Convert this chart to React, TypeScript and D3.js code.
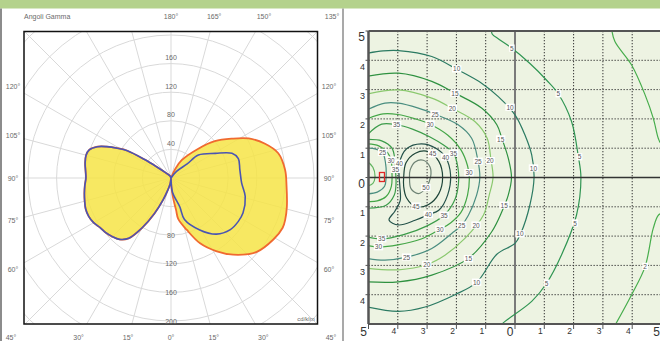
import React from "react";
import * as d3 from "d3";

// ---------- Polar photometric diagram data (gamma in degrees from nadir, value in cd/klm) ----------
const leftLobe: [number, number][] = [
  [0, 0], [8, 8], [15, 18], [20, 33], [25, 55], [30, 80], [35, 103], [40, 112], [45, 116], [50, 119],
  [55, 121], [60, 125], [65, 127], [70, 127], [75, 125], [80, 123], [85, 121], [90, 119], [95, 120],
  [100, 122], [105, 123], [109, 121], [113, 112], [116, 100], [119, 86], [122, 72], [125, 45], [128, 25],
  [135, 10], [155, 3], [180, 0],
];
const redRight: [number, number][] = [
  [180, 0], [155, 14], [149, 29], [137, 56], [130, 80], [123, 101], [117, 122], [110, 140], [103, 154],
  [94, 160], [86, 162], [76, 167], [70, 170], [66, 171], [59, 167], [49, 158], [39, 138], [32, 121],
  [24, 100], [17, 76], [10, 58], [9, 45], [6, 28], [3, 14], [0, 0],
];
const blueRight: [number, number][] = [
  [180, 0], [140, 12], [131, 30], [130, 50], [119, 71], [112, 92], [106, 98], [97, 97], [86, 99],
  [76, 107], [64, 112], [57, 112], [49, 110], [39, 101], [29, 83], [18, 61], [17, 42], [6, 20], [0, 0],
];
const gridCircles = [40, 80, 120, 160, 200, 240, 280];
const radiusLabelsUp = [40, 80, 120, 160];
const radiusLabelsDown = [80, 120, 160, 200];
const sideAngles = [60, 75, 90, 105, 120];
const bottomAngles = [-45, -30, -15, 0, 15, 30, 45];
const topAngles = [180, 165, 150, 135];

// ---------- Isolux diagram data (metres, lux) ----------
const iso2a: [number, number][] = [[3.3, 5.05], [3.41, 4.64], [3.98, 3.84], [4.44, 2.82], [4.72, 2.02], [4.89, 1.34], [4.97, 1.18], [5.1, 1.15]];
const iso2b: [number, number][] = [[5.1, -1.2], [4.9, -1.28], [4.72, -1.73], [4.44, -3.04], [3.98, -4.0], [3.41, -5.05]];
const iso5: [number, number][] = [[-0.8, 5.05], [-0.78, 4.9], [-0.55, 4.72], [-0.17, 4.46], [0.51, 3.89], [1.08, 3.32], [1.48, 2.85], [1.93, 1.91], [2.16, 0.72], [2.25, 0], [2.1, -1.28], [1.59, -2.64], [1.08, -3.61], [0.57, -4.23], [-0.34, -4.91], [-0.5, -5.05]];
const iso10: [number, number][] = [[-5.05, 4.24], [-4.5, 4.32], [-3.98, 4.33], [-2.84, 4.13], [-1.94, 3.67], [-1.14, 3.22], [-0.57, 2.76], [0, 2.14], [0.34, 1.45], [0.57, 0.77], [0.65, 0], [0.51, -0.93], [0.2, -1.9], [0, -2.25], [-0.62, -2.62], [-1.31, -3.58], [-2.05, -4.0], [-3.07, -4.42], [-3.98, -4.57], [-5.05, -4.42]];
const iso15: [number, number][] = [[-5.05, 3.45], [-3.98, 3.56], [-2.84, 3.28], [-2.05, 2.88], [-1.14, 2.37], [-0.62, 1.8], [-0.45, 1.34], [-0.23, 0.66], [-0.12, 0], [-0.23, -0.6], [-0.45, -1.17], [-0.8, -1.86], [-1.59, -2.76], [-2.84, -3.33], [-3.98, -3.56], [-5.05, -3.56]];
const iso20: [number, number][] = [[-5.05, 2.85], [-3.98, 2.99], [-2.84, 2.71], [-2.14, 2.36], [-1.37, 1.91], [-0.95, 1.34], [-0.82, 0.6], [-0.75, 0], [-0.88, -0.6], [-1.08, -1.29], [-1.71, -2.08], [-2.39, -2.65], [-3.01, -2.97], [-3.98, -3.15], [-5.05, -3.1]];
const iso25: [number, number][] = [[-5.05, 2.31], [-4.44, 2.54], [-3.98, 2.54], [-3.3, 2.37], [-2.73, 2.16], [-1.94, 1.8], [-1.48, 1.34], [-1.27, 0.6], [-1.2, 0], [-1.31, -0.6], [-1.59, -1.29], [-1.82, -1.63], [-2.16, -1.91], [-2.84, -2.42], [-3.7, -2.72], [-4.44, -2.82], [-5.05, -2.76]];
const iso30: [number, number][] = [[-5.05, 2.0], [-4.5, 2.17], [-4.0, 2.15], [-3.4, 2.0], [-2.9, 1.82], [-2.3, 1.45], [-1.85, 0.95], [-1.62, 0.4], [-1.56, 0], [-1.62, -0.6], [-1.85, -1.2], [-2.2, -1.55], [-2.56, -1.77], [-3.2, -2.1], [-4.0, -2.3], [-4.66, -2.37], [-5.05, -2.32]];
const iso35: [number, number][] = [[-5.05, 1.45], [-4.55, 1.82], [-4.04, 1.8], [-3.5, 1.65], [-2.9, 1.38], [-2.4, 1.08], [-2.1, 0.83], [-1.95, 0.35], [-1.93, -0.2], [-2.05, -0.75], [-2.42, -1.29], [-3.0, -1.65], [-3.8, -1.95], [-4.55, -2.1], [-5.05, -2.03]];
const iso35u: [number, number][] = [[-5.05, 1.3], [-4.55, 1.25], [-4.2, 1.0], [-4.1, 0.6], [-4.08, 0.27], [-4.06, -0.2], [-4.12, -0.6], [-4.4, -0.95], [-5.05, -1.05]];
const iso30u: [number, number][] = [[-5.05, 1.15], [-4.65, 1.08], [-4.35, 0.85], [-4.23, 0.59], [-4.2, 0.2], [-4.22, -0.3], [-4.4, -0.65], [-4.7, -0.8], [-5.05, -0.82]];
const iso25u: [number, number][] = [[-5.05, 1.0], [-4.75, 0.97], [-4.52, 0.85], [-4.42, 0.5], [-4.4, 0], [-4.45, -0.3], [-4.7, -0.5], [-5.05, -0.56]];
const iso20u: [number, number][] = [[-5.05, 0.55], [-4.85, 0.35], [-4.78, 0], [-4.85, -0.2], [-5.05, -0.3]];
const iso40: [number, number][] = [[-3.95, 0.48], [-3.7, 0.98], [-3.2, 1.15], [-2.7, 1.0], [-2.37, 0.69], [-2.2, 0.1], [-2.3, -0.6], [-2.6, -1.12], [-2.96, -1.27], [-3.41, -1.46], [-3.98, -1.62], [-4.3, -1.45], [-4.1, -1.15], [-3.92, -0.8], [-3.93, -0.3], [-3.96, 0.1]];
const iso45: [number, number][] = [[-3.8, 0.0], [-3.72, 0.5], [-3.4, 0.83], [-2.95, 0.88], [-2.6, 0.55], [-2.47, 0.0], [-2.6, -0.55], [-2.95, -0.92], [-3.38, -1.0], [-3.7, -0.7], [-3.8, -0.3]];
const iso50: [number, number][] = [[-3.6, 0.02], [-3.58, 0.25], [-3.41, 0.53], [-3.13, 0.59], [-2.9, 0.36], [-2.88, 0.02], [-3.04, -0.35], [-3.3, -0.55], [-3.55, -0.38]];

const openContours: { pts: [number, number][]; color: string }[] = [
  { pts: iso2a, color: "#47ad4c" }, { pts: iso2b, color: "#47ad4c" },
  { pts: iso5, color: "#2f9552" }, { pts: iso10, color: "#2b7a62" },
  { pts: iso15, color: "#2e9140" }, { pts: iso20, color: "#8ac86e" },
  { pts: iso25, color: "#4a8e80" }, { pts: iso30, color: "#44a647" },
  { pts: iso35, color: "#3c9c4a" }, { pts: iso35u, color: "#3c9c4a" },
  { pts: iso30u, color: "#44a647" }, { pts: iso25u, color: "#4a8e80" },
  { pts: iso20u, color: "#62b460" },
];
const closedContours: { pts: [number, number][]; color: string }[] = [
  { pts: iso40, color: "#24524a" }, { pts: iso45, color: "#1e4539" }, { pts: iso50, color: "#6d8274" },
];
const contourLabels: [number, number, number][] = [
  [10, -1.99, 3.7], [10, -0.17, 2.39], [10, 0.63, 0.32], [10, 0.17, -1.93], [10, -1.31, -3.58],
  [5, -0.11, 4.41], [5, 1.48, 2.85], [5, 2.2, 0.7], [5, 2.05, -1.56], [5, 1.08, -3.61],
  [2, 4.44, -3.04],
  [15, -2.05, 2.87], [15, -0.49, 1.31], [15, -0.37, -0.95], [15, -1.59, -2.78],
  [20, -2.14, 2.36], [20, -0.85, 0.57], [20, -1.33, -1.63], [20, -3.01, -2.97],
  [25, -2.73, 2.16], [25, -1.26, 0.55], [25, -1.82, -1.63], [25, -3.7, -2.72], [25, -4.52, 0.85],
  [30, -2.9, 1.82], [30, -1.57, 0.16], [30, -2.56, -1.77], [30, -4.66, -2.37], [30, -4.23, 0.59],
  [35, -4.04, 1.8], [35, -2.1, 0.83], [35, -2.42, -1.29], [35, -4.55, -2.1], [35, -4.08, 0.27],
  [40, -3.95, 0.48], [40, -2.37, 0.69], [40, -2.96, -1.27],
  [45, -2.81, 0.8], [45, -3.38, -0.98],
  [50, -3.04, -0.35],
];
const axisTicks = [-5, -4, -3, -2, -1, 0, 1, 2, 3, 4, 5];
const luminaire: [number, number] = [-4.54, 0];

const deg = Math.PI / 180;

export default function App() {
  // polar layout
  const cx = 171, cy = 178;
  const r = d3.scaleLinear().domain([0, 200]).range([0, 143]);
  const toRight = (d: [number, number]): [number, number] => [Math.PI - d[0] * deg, d[1]];
  const toLeft = (d: [number, number]): [number, number] => [Math.PI + d[0] * deg, d[1]];
  const radial = d3.lineRadial<[number, number]>().angle((d) => d[0]).radius((d) => r(d[1]))
    .curve(d3.curveCatmullRomClosed.alpha(0.5));
  const redPts = [...redRight.map(toRight), ...leftLobe.map(toLeft)];
  const bluePts = [...blueRight.map(toRight), ...leftLobe.map(toLeft)];
  const redPath = radial(redPts) || "";
  const bluePath = radial(bluePts) || "";
  const bx0 = 24, by0 = 31.5, bx1 = 317.5, by1 = 324;

  // isolux layout
  const xS = d3.scaleLinear().domain([-5, 5]).range([368.5, 661.5]);
  const yS = d3.scaleLinear().domain([-5, 5]).range([324, 31]);
  const lineOpen = d3.line<[number, number]>().x((d) => xS(d[0])).y((d) => yS(d[1])).curve(d3.curveCatmullRom.alpha(0.5));
  const lineClosed = d3.line<[number, number]>().x((d) => xS(d[0])).y((d) => yS(d[1])).curve(d3.curveCatmullRomClosed.alpha(0.5));

  const labelColor = "#6a6a6a";
  const font = "Liberation Sans, Arial, sans-serif";

  return (
    <svg width={660} height={341} style={{ position: "absolute", left: 0, top: 0, background: "#fff" }} fontFamily={font}>
      <defs>
        <clipPath id="polarClip"><rect x={bx0} y={by0} width={bx1 - bx0} height={by1 - by0} /></clipPath>
        <clipPath id="isoClip"><rect x={xS(-5)} y={yS(5)} width={xS(5) - xS(-5)} height={yS(-5) - yS(5)} /></clipPath>
      </defs>
      {/* top band & frame lines */}
      <rect x={0} y={0} width={660} height={8.5} fill="#b4d28c" />
      <line x1={1} x2={1} y1={8.5} y2={341} stroke="#8c8c8c" strokeWidth={2} />
      <line x1={343} x2={343} y1={8.5} y2={341} stroke="#8c8c8c" strokeWidth={1.5} />

      {/* ---------- polar ---------- */}
      <text x={24} y={19} fontSize={7} fill={labelColor}>Angoli Gamma</text>
      <g clipPath="url(#polarClip)">
        <g transform={`translate(${cx},${cy})`}>
          {gridCircles.map((c) => (
            <circle key={c} r={r(c)} fill="none" stroke="#d9d9d9" strokeWidth={1} />
          ))}
          {d3.range(0, 360, 15).map((a) => (
            <line key={a} x1={0} y1={0} x2={Math.sin(a * deg) * 320} y2={Math.cos(a * deg) * 320} stroke="#d9d9d9" strokeWidth={1} />
          ))}
          <path d={redPath} fill="#f6e446" fillOpacity={0.85} stroke="none" />
          <path d={redPath} fill="none" stroke="#f06a30" strokeWidth={1.8} />
          <path d={bluePath} fill="none" stroke="#4a55b2" strokeWidth={1.6} />
        </g>
      </g>
      <rect x={bx0} y={by0} width={bx1 - bx0} height={by1 - by0} fill="none" stroke="#111" strokeWidth={1.5} />
      {radiusLabelsUp.map((v) => (
        <text key={"u" + v} x={cx} y={cy - r(v) - 3.5} fontSize={7} fill={labelColor} textAnchor="middle">{v}</text>
      ))}
      {radiusLabelsDown.map((v) => (
        <text key={"d" + v} x={cx} y={cy + r(v) + 2.5} fontSize={7} fill={labelColor} textAnchor="middle">{v}</text>
      ))}
      <text x={306} y={321} fontSize={6} fill={labelColor} textAnchor="middle">cd/klm</text>
      {bottomAngles.map((a) => (
        <text key={"b" + a} x={cx + 160 * Math.tan(a * deg)} y={340} fontSize={7} fill={labelColor} textAnchor="middle">{Math.abs(a)}°</text>
      ))}
      {sideAngles.map((a) => (
        <g key={"s" + a}>
          <text x={cx - 158} y={cy + (158 * Math.cos(a * deg)) / Math.sin(a * deg) + 2.5} fontSize={7} fill={labelColor} textAnchor="middle">{a}°</text>
          <text x={cx + 158} y={cy + (158 * Math.cos(a * deg)) / Math.sin(a * deg) + 2.5} fontSize={7} fill={labelColor} textAnchor="middle">{a}°</text>
        </g>
      ))}
      {topAngles.map((a) => (
        <text key={"t" + a} x={cx + 161 * Math.tan((180 - a) * deg)} y={18.5} fontSize={7} fill={labelColor} textAnchor="middle">{a}°</text>
      ))}

      {/* ---------- isolux ---------- */}
      <rect x={xS(-5)} y={yS(5)} width={xS(5) - xS(-5)} height={yS(-5) - yS(5)} fill="#edf3e2" />
      {axisTicks.filter((t) => t !== 0 && Math.abs(t) !== 5).map((t) => (
        <g key={"g" + t}>
          <line x1={xS(t)} x2={xS(t)} y1={yS(5)} y2={yS(-5)} stroke="#333" strokeWidth={1} strokeDasharray="1.3,1.7" />
          <line x1={xS(-5)} x2={xS(5)} y1={yS(t)} y2={yS(t)} stroke="#333" strokeWidth={1} strokeDasharray="1.3,1.7" />
        </g>
      ))}
      <line x1={xS(0)} x2={xS(0)} y1={yS(5)} y2={yS(-5)} stroke="#7a7a7a" strokeWidth={2} />
      <g clipPath="url(#isoClip)">
        {openContours.map((c, i) => (
          <path key={"o" + i} d={lineOpen(c.pts) || ""} fill="none" stroke={c.color} strokeWidth={1.2} />
        ))}
        {closedContours.map((c, i) => (
          <path key={"c" + i} d={lineClosed(c.pts) || ""} fill="none" stroke={c.color} strokeWidth={1.2} />
        ))}
      </g>
      <line x1={xS(-5)} x2={xS(5)} y1={yS(0)} y2={yS(0)} stroke="#333" strokeWidth={1.5} />
      {contourLabels.map(([v, x, y], i) => {
        const w = String(v).length * 3.7 + 2;
        return (
          <g key={"l" + i}>
            <rect x={xS(x) - w / 2} y={yS(y) - 3.8} width={w} height={7.2} fill="#fff" />
            <text x={xS(x)} y={yS(y) + 2.4} fontSize={6.5} fill="#555" textAnchor="middle">{v}</text>
          </g>
        );
      })}
      <rect x={xS(luminaire[0]) - 2.5} y={yS(luminaire[1]) - 5} width={5} height={9} fill="none" stroke="#e02525" strokeWidth={1.3} />
      {/* frame */}
      <line x1={xS(-5)} x2={xS(-5)} y1={yS(5)} y2={yS(-5)} stroke="#555" strokeWidth={2.5} />
      <line x1={xS(-5)} x2={xS(5)} y1={yS(5)} y2={yS(5)} stroke="#555" strokeWidth={2} />
      <line x1={xS(-5)} x2={xS(5)} y1={yS(-5)} y2={yS(-5)} stroke="#555" strokeWidth={2} />
      {/* ticks and labels */}
      {axisTicks.map((t) => {
        const big = t === 0 || Math.abs(t) === 5;
        return (
          <g key={"t" + t}>
            <line x1={xS(t)} x2={xS(t)} y1={yS(-5)} y2={yS(-5) + 5} stroke="#555" strokeWidth={1} />
            <text x={xS(t) - 1.5} y={big ? 335.5 : 333.5} fontSize={big ? 12 : 8.5} fill="#333" textAnchor="end">{Math.abs(t)}</text>
          </g>
        );
      })}
      {axisTicks.filter((t) => t !== -5).map((t) => {
        const big = t === 0 || Math.abs(t) === 5;
        return (
          <g key={"y" + t}>
            <line x1={xS(-5) - 3} x2={xS(-5)} y1={yS(t)} y2={yS(t)} stroke="#555" strokeWidth={1} />
            <text x={365} y={yS(t) + (big ? 10 : 9.5)} fontSize={big ? 12 : 9} fill="#333" textAnchor="end">{Math.abs(t)}</text>
          </g>
        );
      })}
    </svg>
  );
}
